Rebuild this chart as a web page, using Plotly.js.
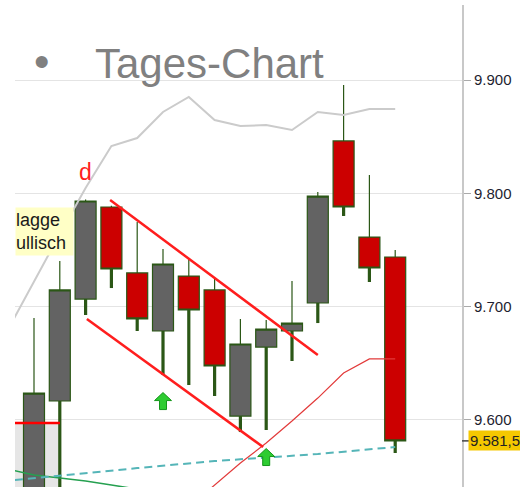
<!DOCTYPE html>
<html>
<head>
<meta charset="utf-8">
<script src="https://cdn.plot.ly/plotly-3.0.1.min.js"></script>
<style>html,body{margin:0;padding:0;background:#fff;}#chart{width:520px;height:487px;}</style>
</head>
<body>
<div id="chart"></div>
<script>
// ---- data ----
var days   = [1,2,3,4,5,6,7,8,9,10,11,12,13,14,15];
var openV  = [9.530, 9.6167, 9.7067, 9.7879, 9.7297, 9.6785, 9.7270, 9.7147, 9.6034, 9.6643, 9.6785, 9.7032, 9.8462, 9.7614, 9.7438];
var highV  = [9.690, 9.7402, 9.7945, 9.7890, 9.7747, 9.7508, 9.7420, 9.7252, 9.6891, 9.6882, 9.7226, 9.8011, 9.8956, 9.8162, 9.7500];
var lowV   = [9.520, 9.520, 9.6926, 9.7164, 9.6785, 9.6396, 9.6308, 9.6211, 9.5893, 9.5911, 9.6520, 9.6855, 9.7800, 9.7217, 9.5708];
var closeV = [9.6237, 9.7147, 9.7932, 9.7332, 9.6891, 9.7376, 9.6970, 9.6476, 9.6670, 9.6802, 9.6855, 9.7976, 9.7879, 9.7341, 9.5815];

// long moving average (grey)
var maLongX = [0, 1, 2, 3, 4, 5, 6, 7, 8, 9, 10, 11, 12, 13, 14, 15];
var maLongY = [9.6800, 9.7225, 9.7641, 9.8047, 9.8417, 9.8488, 9.8718, 9.8850, 9.8647, 9.8594, 9.8603, 9.8559, 9.8718, 9.8691, 9.8744, 9.8744];
// short moving average (thin red)
var maShortX = [7, 8, 9, 10, 11, 12, 13, 14, 15];
var maShortY = [9.523, 9.5425, 9.5620, 9.5796, 9.5990, 9.6193, 9.6414, 9.6538, 9.6538];
// green average (bottom left)
var maGreenX = [0, 1, 2, 3, 4, 5];
var maGreenY = [9.5565, 9.5514, 9.5487, 9.5460, 9.5425, 9.5390];
// teal dashed trend line
var trendX = [0.26, 1, 5, 8, 12, 15];
var trendY = [9.5470, 9.5487, 9.5575, 9.5637, 9.5699, 9.5761];
// flag channel
var chanUpX = [3.95, 12.0];
var chanUpY = [9.7941, 9.6573];
var chanLoX = [3.05, 9.88];
var chanLoY = [9.6891, 9.5761];
// buy signals
var sigX = [6, 10];
var sigY = [9.6162, 9.5668];
// grey zone + red level
var zoneX = [0.2636, 2.008];
var zoneY = [9.5973, 9.40];
// last price
var lastPrice = 9.5815;
var lastLabel = '9.581,5';
var yTickVals = [9.6, 9.7, 9.8, 9.9];
var yTickText = ['9.600', '9.700', '9.800', '9.900'];

// ---- build wicks (outside the bodies) ----
var wickX = [], wickY = [];
for (var i = 0; i < days.length; i++) {
  var top = Math.max(openV[i], closeV[i]), bot = Math.min(openV[i], closeV[i]);
  wickX.push(days[i], days[i], null, days[i], days[i], null);
  wickY.push(highV[i], top, null, bot, lowV[i], null);
}

var wickColor = '#2b5716';
var FONT = 'Liberation Sans, Arial, sans-serif';

var traces = [
  {
    type: 'candlestick', x: days, open: openV, high: highV, low: lowV, close: closeV,
    whiskerwidth: 0,
    increasing: {line: {color: wickColor, width: 1.2}, fillcolor: '#636363'},
    decreasing: {line: {color: wickColor, width: 1.2}, fillcolor: '#cc0000'},
    hoverinfo: 'skip', showlegend: false
  },
  {type: 'scatter', mode: 'lines', x: wickX, y: wickY, connectgaps: false,
   line: {color: wickColor, width: 3.2}, hoverinfo: 'skip', showlegend: false},
  {type: 'scatter', mode: 'lines', x: maLongX, y: maLongY,
   line: {color: '#cbcbcb', width: 2}, hoverinfo: 'skip', showlegend: false},
  {type: 'scatter', mode: 'lines', x: maGreenX, y: maGreenY,
   line: {color: '#25a050', width: 1.5}, hoverinfo: 'skip', showlegend: false},
  {type: 'scatter', mode: 'lines', x: trendX, y: trendY,
   line: {color: '#55b5b8', width: 2, dash: '8px,5px'}, hoverinfo: 'skip', showlegend: false},
  {type: 'scatter', mode: 'lines', x: maShortX, y: maShortY,
   line: {color: '#e23a3a', width: 1.2}, hoverinfo: 'skip', showlegend: false},
  {type: 'scatter', mode: 'lines', x: chanUpX, y: chanUpY,
   line: {color: '#ff1e1e', width: 2.5}, hoverinfo: 'skip', showlegend: false},
  {type: 'scatter', mode: 'lines', x: chanLoX, y: chanLoY,
   line: {color: '#ff1e1e', width: 2.5}, hoverinfo: 'skip', showlegend: false}
];

var arrowPath = 'M 0,9 L 8.5,1 L 3.5,1 L 3.5,-8 L -3.5,-8 L -3.5,1 L -8.5,1 Z';
var shapes = [
  {type: 'rect', xref: 'x', yref: 'y', x0: zoneX[0], x1: zoneX[1], y0: zoneY[0], y1: zoneY[1],
   fillcolor: '#e6e6e6', line: {width: 0}, layer: 'below'},
  {type: 'line', xref: 'x', yref: 'y', x0: zoneX[0], x1: zoneX[1], y0: zoneY[0], y1: zoneY[0],
   line: {color: '#ff0000', width: 2.5}, layer: 'above'},
  {type: 'line', xref: 'paper', yref: 'y', x0: 1, x1: 1 + 8 / 447, y0: lastPrice, y1: lastPrice,
   line: {color: '#444', width: 1.5}}
];
for (var k = 0; k < sigX.length; k++) {
  shapes.push({type: 'path', xref: 'x', yref: 'y', xsizemode: 'pixel', ysizemode: 'pixel',
    xanchor: sigX[k], yanchor: sigY[k], path: arrowPath,
    fillcolor: '#2ecc32', line: {color: '#14961a', width: 1}, layer: 'above'});
}

var layout = {
  width: 520, height: 487,
  margin: {l: 15, r: 58, t: 5, b: 0},
  paper_bgcolor: '#ffffff', plot_bgcolor: '#ffffff',
  showlegend: false,
  boxgap: 0.186, boxgroupgap: 0,
  font: {family: FONT},
  xaxis: {range: [0.2636, 17.589], showgrid: false, zeroline: false, showticklabels: false,
          ticks: '', showline: false, rangeslider: {visible: false}, fixedrange: true},
  yaxis: {side: 'right', range: [9.5408, 9.9662], tickvals: yTickVals, ticktext: yTickText,
          showgrid: true, gridcolor: '#e4e4e4', gridwidth: 1, zeroline: false,
          showline: true, linecolor: '#c8c8c8', linewidth: 2, mirror: false,
          ticks: 'outside', ticklen: 7, tickcolor: '#aaaaaa', tickwidth: 1,
          tickfont: {size: 15, color: '#1e1e30', family: FONT}, fixedrange: true},
  title: {text: 'Tages-Chart', x: 95 / 520, xanchor: 'left', xref: 'container',
          y: 1 - 63 / 487, yanchor: 'middle', yref: 'container',
          font: {size: 42, color: '#808080', family: FONT}},
  shapes: shapes,
  annotations: [
    {text: '•', xref: 'paper', yref: 'paper', x: (41.5 - 15) / 447, y: (487 - 61) / 482,
     xanchor: 'center', yanchor: 'middle', showarrow: false,
     font: {size: 44, color: '#808080', family: FONT}},
    {text: 'd', xref: 'x', yref: 'y', x: 3, y: 9.8192, xanchor: 'center', yanchor: 'middle',
     showarrow: false, font: {size: 23, color: '#ff1e1e', family: FONT}},
    {text: 'lagge<br>ullisch', xref: 'paper', yref: 'paper', x: 0, y: (487 - 231.5) / 482,
     xanchor: 'left', yanchor: 'middle', align: 'left', valign: 'middle',
     width: 57, height: 47, borderpad: 0, bgcolor: '#ffffc6', showarrow: false,
     font: {size: 18, color: '#1a1a1a', family: FONT}},
    {text: lastLabel, xref: 'paper', yref: 'y', x: 1, y: lastPrice, xanchor: 'left', yanchor: 'middle',
     xshift: 6, showarrow: false, bgcolor: '#f5c800', borderpad: 1,
     font: {size: 15, color: '#222222', family: FONT}}
  ]
};

Plotly.newPlot('chart', traces, layout, {staticPlot: true, displayModeBar: false});
</script>
</body>
</html>
